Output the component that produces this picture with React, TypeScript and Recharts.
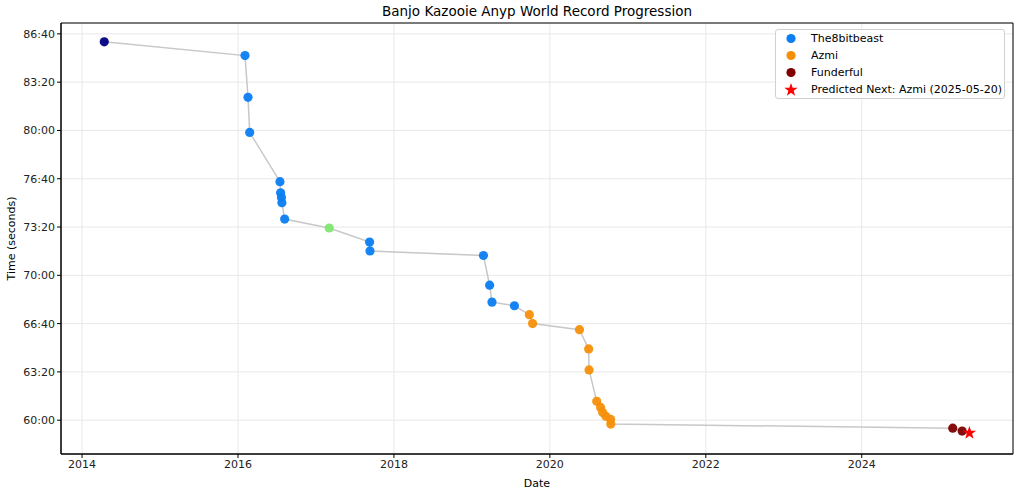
import React from 'react'
import {
  ComposedChart,
  Scatter,
  XAxis,
  YAxis,
  CartesianGrid,
  ReferenceArea,
} from 'recharts'

// World record runs, in chronological order
const runDates = [
  '2014-04-15', '2016-02-03', '2016-02-17', '2016-02-25', '2016-07-16',
  '2016-07-19', '2016-07-23', '2016-07-25', '2016-08-07', '2017-03-04',
  '2017-09-09', '2017-09-11', '2019-02-24', '2019-03-25', '2019-04-05',
  '2019-07-19', '2019-09-27', '2019-10-12', '2020-05-19', '2020-07-01',
  '2020-07-03', '2020-08-08', '2020-08-26', '2020-09-05', '2020-09-20',
  '2020-10-12', '2020-10-13', '2025-03-03', '2025-04-16',
]
const runTimes = [
  5167, 5110, 4937, 4792, 4588,
  4542, 4522, 4501, 4433, 4396,
  4338, 4301, 4282, 4159, 4089,
  4074, 4037, 4000, 3975, 3895,
  3808, 3678, 3653, 3632, 3616,
  3604, 3584, 3567, 3555,
]
const runRunners = [
  'Other', 'The8bitbeast', 'The8bitbeast', 'The8bitbeast', 'The8bitbeast',
  'The8bitbeast', 'The8bitbeast', 'The8bitbeast', 'The8bitbeast', 'Other2',
  'The8bitbeast', 'The8bitbeast', 'The8bitbeast', 'The8bitbeast', 'The8bitbeast',
  'The8bitbeast', 'Azmi', 'Azmi', 'Azmi', 'Azmi',
  'Azmi', 'Azmi', 'Azmi', 'Azmi', 'Azmi',
  'Azmi', 'Azmi', 'Funderful', 'Funderful',
]

const predictedDate = '2025-05-20'
const predictedTime = 3547
const predictedLabel = 'Predicted Next: Azmi (2025-05-20)'

const legendRunners = ['The8bitbeast', 'Azmi', 'Funderful']
const runnerColors: Record<string, string> = {
  The8bitbeast: '#0a7ef2',
  Azmi: '#f58f0a',
  Funderful: '#800000',
  Other: '#000080',
  Other2: '#7ee86f',
}

const yearTicks = [2014, 2016, 2018, 2020, 2022, 2024]
const timeTicks = [3600, 3800, 4000, 4200, 4400, 4600, 4800, 5000, 5200]

const X_DOMAIN: [number, number] = [2013.73, 2025.94]
const Y_DOMAIN: [number, number] = [3460, 5245]

const FONT = '"DejaVu Sans", sans-serif'

function toYear(s: string) {
  const [y, m, d] = s.split('-').map(Number)
  const start = Date.UTC(y, 0, 1)
  const end = Date.UTC(y + 1, 0, 1)
  return y + (Date.UTC(y, m - 1, d) - start) / (end - start)
}

function fmtTime(v: number) {
  const m = Math.floor(v / 60)
  const s = Math.round(v % 60)
  return `${m}:${String(s).padStart(2, '0')}`
}

const runs = runDates.map((d, i) => ({
  x: toYear(d),
  y: runTimes[i],
  runner: runRunners[i],
}))
const runnerGroups = Array.from(new Set(runRunners)).map((name) => ({
  name,
  data: runs.filter((r) => r.runner === name),
}))
const predicted = [{ x: toYear(predictedDate), y: predictedTime }]

function dot(color: string) {
  return (props: any) => (
    <circle cx={props.cx} cy={props.cy} r={4.6} fill={color} fillOpacity={0.95} />
  )
}

function starPath(cx: number, cy: number, r: number) {
  const pts: string[] = []
  for (let i = 0; i < 10; i++) {
    const rad = i % 2 === 0 ? r : r * 0.4
    const a = -Math.PI / 2 + (i * Math.PI) / 5
    pts.push(`${cx + rad * Math.cos(a)},${cy + rad * Math.sin(a)}`)
  }
  return `M${pts.join('L')}Z`
}

function Star(props: any) {
  return <path d={starPath(props.cx, props.cy, 7)} fill="#ff0000" />
}

export default function App() {
  return (
    <div style={{ position: 'fixed', left: 0, top: 0, width: 1024, height: 490, background: '#fff', fontFamily: FONT }}>
      <div
        style={{
          position: 'absolute',
          top: 3,
          left: 61,
          width: 952,
          textAlign: 'center',
          fontSize: 13.5,
          color: '#000',
        }}
      >
        Banjo Kazooie Anyp World Record Progression
      </div>
      <ComposedChart width={1024} height={490} margin={{ top: 23, right: 11, left: 0, bottom: 0 }}>
        <CartesianGrid stroke="#e8e8e8" strokeWidth={1} />
        <XAxis
          type="number"
          dataKey="x"
          domain={X_DOMAIN}
          ticks={yearTicks}
          allowDataOverflow
          height={36}
          tickSize={4}
          tickLine={{ stroke: '#000' }}
          axisLine={{ stroke: '#000' }}
          tick={{ fill: '#222', fontSize: 11, fontFamily: FONT }}
          label={{ value: 'Date', position: 'insideBottom', offset: 3, fill: '#000', fontSize: 11, fontFamily: FONT }}
        />
        <YAxis
          type="number"
          dataKey="y"
          domain={Y_DOMAIN}
          ticks={timeTicks}
          allowDataOverflow
          width={61}
          tickSize={4}
          tickFormatter={fmtTime}
          tickLine={{ stroke: '#000' }}
          axisLine={{ stroke: '#000' }}
          tick={{ fill: '#222', fontSize: 11, fontFamily: FONT }}
          label={{ value: 'Time (seconds)', angle: -90, position: 'insideLeft', offset: 11, fill: '#000', fontSize: 11, fontFamily: FONT, style: { textAnchor: 'middle' } }}
        />
        <ReferenceArea
          x1={X_DOMAIN[0]}
          x2={X_DOMAIN[1]}
          y1={Y_DOMAIN[0]}
          y2={Y_DOMAIN[1]}
          fill="none"
          stroke="#000"
          strokeWidth={1}
        />
        <Scatter
          data={runs}
          line={{ stroke: '#c8c8c8', strokeWidth: 1.5 }}
          shape={() => <g />}
          isAnimationActive={false}
        />
        {runnerGroups.map((g) => (
          <Scatter
            key={g.name}
            data={g.data}
            shape={dot(runnerColors[g.name])}
            isAnimationActive={false}
          />
        ))}
        <Scatter data={predicted} shape={Star} isAnimationActive={false} />
      </ComposedChart>
      <div
        style={{
          position: 'absolute',
          left: 775,
          top: 29,
          width: 230,
          height: 70,
          border: '1px solid #d0d0d0',
          borderRadius: 3,
          background: 'rgba(255,255,255,0.85)',
          fontSize: 11,
          color: '#000',
          boxSizing: 'border-box',
          paddingTop: 0,
        }}
      >
        {legendRunners.map((name) => (
          <div key={name} style={{ height: 17, display: 'flex', alignItems: 'center' }}>
            <svg width={30} height={17}>
              <circle cx={15} cy={8.5} r={4.6} fill={runnerColors[name]} />
            </svg>
            <span style={{ marginLeft: 5 }}>{name}</span>
          </div>
        ))}
        <div style={{ height: 17, display: 'flex', alignItems: 'center' }}>
          <svg width={30} height={17}>
            <path d={starPath(15, 9, 7)} fill="#ff0000" />
          </svg>
          <span style={{ marginLeft: 5 }}>{predictedLabel}</span>
        </div>
      </div>
    </div>
  )
}
